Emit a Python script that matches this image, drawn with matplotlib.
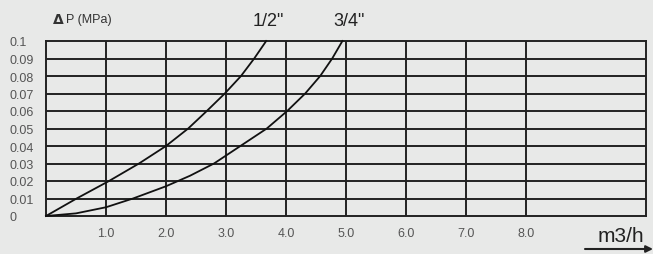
"""Pressure drop vs flow chart for 1/2" and 3/4" valves."""

import matplotlib.pyplot as plt

# flow (m3/h) and pressure drop (MPa)
flow_half = [0.0, 0.51, 1.05, 1.55, 2.0, 2.37, 2.68, 2.98, 3.25, 3.47, 3.67]
dp_half = [0.0, 0.01, 0.02, 0.03, 0.04, 0.05, 0.06, 0.07, 0.08, 0.09, 0.1]

flow_three_q = [0.0, 0.5, 1.0, 1.45, 2.0, 2.4, 2.8, 3.24, 3.68, 4.02, 4.32, 4.57, 4.77, 4.94]
dp_three_q = [0.0, 0.0015, 0.005, 0.01, 0.017, 0.023, 0.03, 0.04, 0.05, 0.06, 0.07, 0.08, 0.09, 0.1]

x_ticks = [1.0, 2.0, 3.0, 4.0, 5.0, 6.0, 7.0, 8.0]
x_labels = ["1.0", "2.0", "3.0", "4.0", "5.0", "6.0", "7.0", "8.0"]
y_ticks = [0, 0.01, 0.02, 0.03, 0.04, 0.05, 0.06, 0.07, 0.08, 0.09, 0.1]
y_labels = ["0", "0.01", "0.02", "0.03", "0.04", "0.05", "0.06", "0.07", "0.08", "0.09", "0.1"]

BG = "#e8e9e8"
GRID = "#222222"
TEXT = "#555555"

plt.rcParams["font.family"] = ["Liberation Sans", "DejaVu Sans"]

fig = plt.figure(figsize=(6.53, 2.55), dpi=100, facecolor=BG)
ax = fig.add_axes([46 / 653, 1 - 217 / 255, 600 / 653, 175 / 255])
ax.set_facecolor(BG)

ax.set_xlim(0, 10)
ax.set_ylim(0, 0.1)

# grid drawn by hand so it matches the thick chart lines
for x in x_ticks:
    ax.axvline(x, color=GRID, lw=1.4, zorder=1)
for y in y_ticks[1:-1]:
    ax.axhline(y, color=GRID, lw=1.4, zorder=1)
for side in ("left", "right", "top", "bottom"):
    ax.spines[side].set_color(GRID)
    ax.spines[side].set_linewidth(1.4)

ax.plot(flow_half, dp_half, color="#111111", lw=1.3, zorder=3, clip_on=False)
ax.plot(flow_three_q, dp_three_q, color="#111111", lw=1.3, zorder=3, clip_on=False)

ax.set_xticks(x_ticks)
ax.set_xticklabels(x_labels, fontsize=9, color=TEXT)
ax.set_yticks(y_ticks)
ax.set_yticklabels(y_labels, fontsize=9, color=TEXT, ha="left")
ax.tick_params(axis="x", length=0, pad=8)
ax.tick_params(axis="y", length=0, pad=26)

fig.text(52 / 653, 1 - 20 / 255, r"$\mathbf{\Delta}$", fontsize=10, color="#333333",
         va="center", ha="left")
fig.text(66 / 653, 1 - 20 / 255, "P (MPa)", fontsize=9, color="#333333",
         va="center", ha="left")

fig.text(268 / 653, 1 - 22 / 255, '1/2"', fontsize=13, color="#222222",
         va="center", ha="center")
fig.text(349 / 653, 1 - 22 / 255, '3/4"', fontsize=13, color="#222222",
         va="center", ha="center")

fig.text(621 / 653, 1 - 236 / 255, "m3/h", fontsize=15, color="#222222",
         va="center", ha="center")
fig.add_artist(plt.Annotation(
    "", xy=(653 / 653, 1 - 250 / 255), xytext=(585 / 653, 1 - 250 / 255),
    xycoords="figure fraction", textcoords="figure fraction",
    arrowprops=dict(arrowstyle="-|>", color="#222222", lw=1.5,
                    mutation_scale=10, shrinkA=0, shrinkB=0),
))

fig.savefig("out.png", dpi=100, facecolor=BG)
